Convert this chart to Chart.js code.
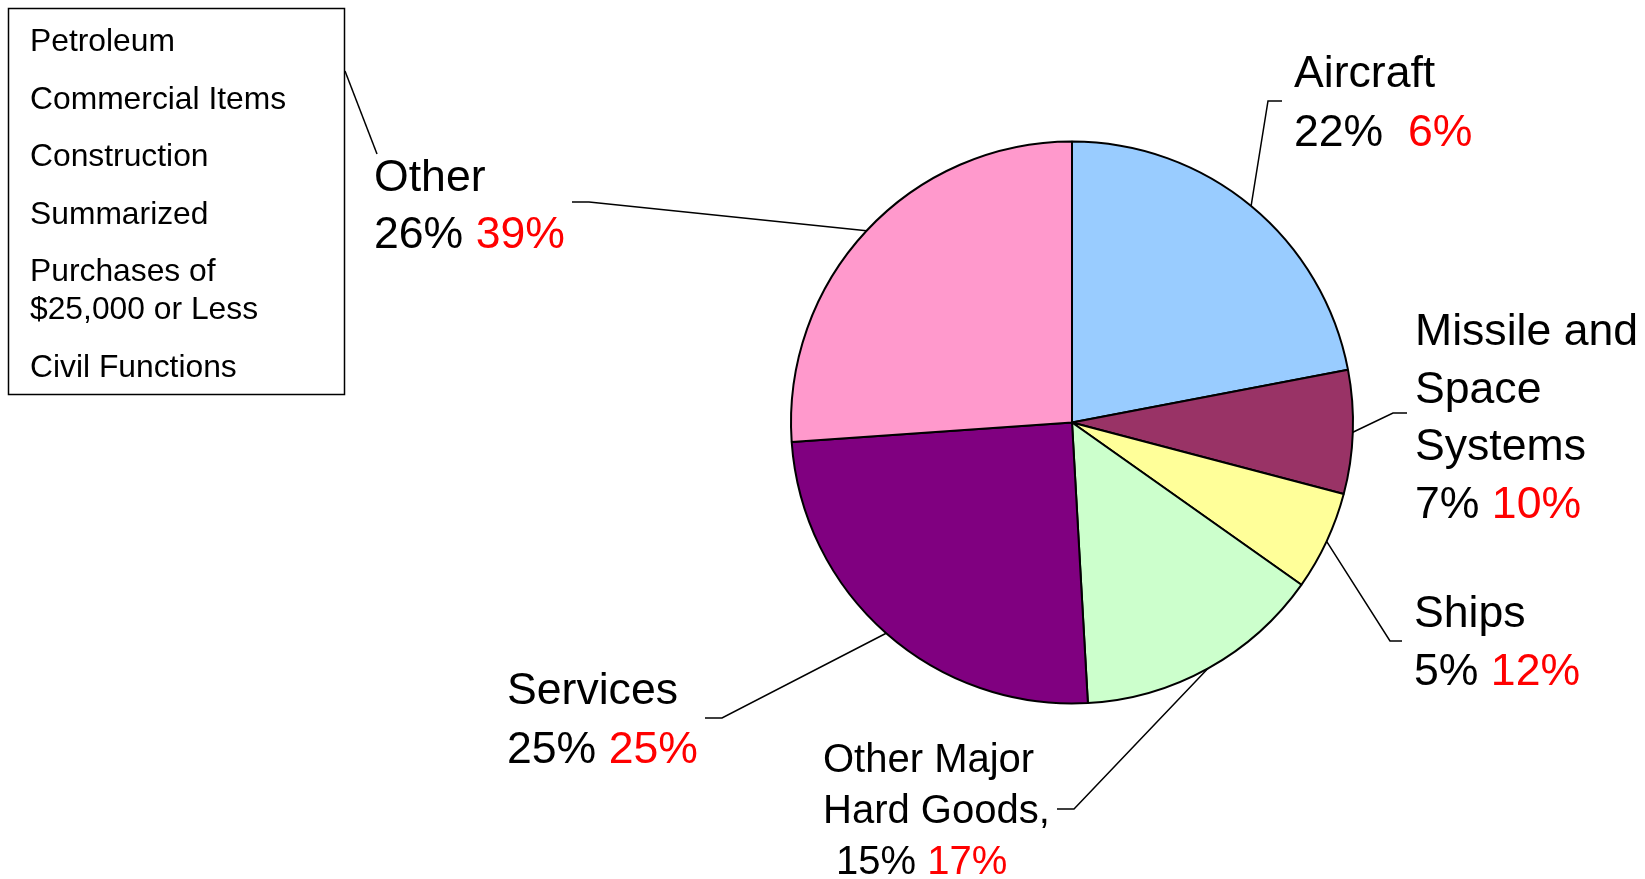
<!DOCTYPE html>
<html>
<head>
<meta charset="utf-8">
<script src="https://cdn.jsdelivr.net/npm/chart.js@4.4.0/dist/chart.umd.min.js"></script>
<style>
  html, body { margin: 0; padding: 0; background: #fff; }
  #wrap { width: 1645px; height: 879px; }
</style>
</head>
<body>
<div id="wrap"><canvas id="pie" width="1645" height="879"></canvas></div>
<script>
// ----- Data -----
const categories  = ["Aircraft", "Missile and Space Systems", "Ships", "Other Major Hard Goods", "Services", "Other"];
const shareValues = [22.0, 7.1, 5.7, 14.3, 24.8, 26.1];   // slice sizes
const shareLabels = ["22%", "7%", "5%", "15%", "25%", "26%"];
const redLabels   = ["6%", "10%", "12%", "17%", "25%", "39%"];
const sliceColors = ["#99CCFF", "#993366", "#FFFF99", "#CCFFCC", "#800080", "#FF99CC"];
const otherItems  = [["Petroleum"], ["Commercial Items"], ["Construction"], ["Summarized"],
                     ["Purchases of", "$25,000 or Less"], ["Civil Functions"]];

// ----- Label layout (one entry per slice) -----
const FONT = '"Liberation Sans", Arial, sans-serif';
const labelLayout = [
  { lines: ["Aircraft"], x: 1294, y: 87, lh: 59, size: 44.6, gap: "  ", vx: 0, elbow: [1268, 101], end: [1282, 101] },
  { lines: ["Missile and", "Space", "Systems"], x: 1415, y: 345, lh: 57.5, size: 44.6, gap: " ", vx: 0, elbow: [1393, 413], end: [1407, 413] },
  { lines: ["Ships"], x: 1414, y: 627, lh: 58, size: 44.6, gap: " ", vx: 0, elbow: [1390, 641], end: [1402, 641] },
  { lines: ["Other Major", "Hard Goods,"], x: 823, y: 772, lh: 51, size: 40, gap: " ", vx: 13, elbow: [1074, 809], end: [1057, 809] },
  { lines: ["Services"], x: 507, y: 704, lh: 59, size: 44.6, gap: " ", vx: 0, elbow: [722, 718], end: [705, 718] },
  { lines: ["Other"], x: 374, y: 191, lh: 57, size: 44.6, gap: " ", vx: 0, elbow: [589, 202], end: [572, 202] },
];

const boxLayout = { x: 8.5, y: 8.5, w: 336, h: 386, textX: 30, firstBase: 51, itemGap: 57.5, wrapGap: 38, size: 31.8,
                    link: [[345, 71], [377, 154]] };

// ----- Plugin: callout labels and the "Other" breakdown box -----
const calloutPlugin = {
  id: "callouts",
  afterDraw(chart) {
    const ctx = chart.ctx;
    const arcs = chart.getDatasetMeta(0).data;
    ctx.save();
    ctx.strokeStyle = "#000";
    ctx.lineWidth = 1.5;
    ctx.textBaseline = "alphabetic";
    ctx.textAlign = "left";

    arcs.forEach((arc, i) => {
      const { x, y, startAngle, endAngle, outerRadius } = arc.getProps(["x", "y", "startAngle", "endAngle", "outerRadius"], true);
      const mid = (startAngle + endAngle) / 2;
      const L = labelLayout[i];
      // leader line from slice edge to label
      ctx.beginPath();
      ctx.moveTo(x + Math.cos(mid) * outerRadius, y + Math.sin(mid) * outerRadius);
      ctx.lineTo(L.elbow[0], L.elbow[1]);
      ctx.lineTo(L.end[0], L.end[1]);
      ctx.stroke();

      ctx.font = `${L.size}px ${FONT}`;
      ctx.fillStyle = "#000";
      L.lines.forEach((t, k) => ctx.fillText(t, L.x, L.y + k * L.lh));
      const vy = L.y + L.lines.length * L.lh;
      const first = shareLabels[i] + L.gap;
      ctx.fillText(first, L.x + L.vx, vy);
      ctx.fillStyle = "#FF0000";
      ctx.fillText(redLabels[i], L.x + L.vx + ctx.measureText(first).width, vy);
    });

    // breakdown box for "Other"
    const B = boxLayout;
    ctx.lineWidth = 1.5;
    ctx.strokeRect(B.x, B.y, B.w, B.h);
    ctx.beginPath();
    ctx.moveTo(B.link[0][0], B.link[0][1]);
    ctx.lineTo(B.link[1][0], B.link[1][1]);
    ctx.stroke();
    ctx.font = `${B.size}px ${FONT}`;
    ctx.fillStyle = "#000";
    let base = B.firstBase;
    otherItems.forEach(item => {
      item.forEach((t, k) => {
        ctx.fillText(t, B.textX, base);
        if (k < item.length - 1) base += B.wrapGap;
      });
      base += B.itemGap;
    });
    ctx.restore();
  }
};

// ----- Chart -----
new Chart(document.getElementById("pie"), {
  type: "pie",
  data: {
    labels: categories,
    datasets: [{
      data: shareValues,
      backgroundColor: sliceColors,
      borderColor: "#000",
      borderWidth: 2,
    }]
  },
  options: {
    responsive: false,
    animation: false,
    events: [],
    radius: 281,
    layout: { padding: { left: 791, right: 292, top: 141, bottom: 175 } },
    plugins: { legend: { display: false }, tooltip: { enabled: false } }
  },
  plugins: [calloutPlugin]
});
</script>
</body>
</html>
